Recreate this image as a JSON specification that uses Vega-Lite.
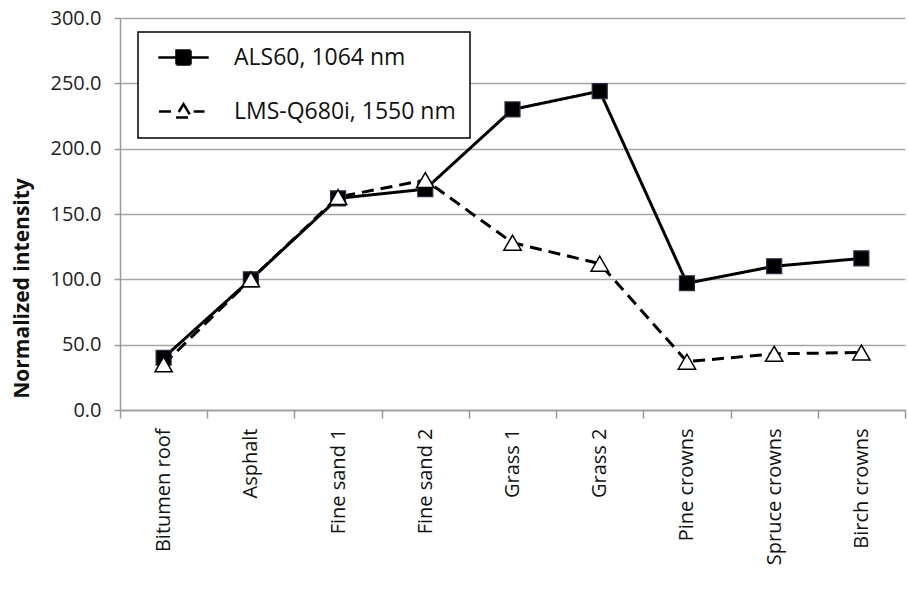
{
  "$schema": "https://vega.github.io/schema/vega-lite/v6.json",
  "width": 785,
  "height": 392,
  "autosize": {"type": "none"},
  "padding": {"left": 120, "top": 18, "right": 3, "bottom": 179},
  "background": "white",
  "config": {
    "view": {"stroke": null},
    "font": "Open Sans",
    "legend": {"strokeWidth": 1.5}
  },
  "data": {
    "values": [
      {"cat": "Bitumen roof", "series": "ALS60, 1064 nm", "value": 40},
      {"cat": "Asphalt", "series": "ALS60, 1064 nm", "value": 100},
      {"cat": "Fine sand 1", "series": "ALS60, 1064 nm", "value": 162},
      {"cat": "Fine sand 2", "series": "ALS60, 1064 nm", "value": 169},
      {"cat": "Grass 1", "series": "ALS60, 1064 nm", "value": 230},
      {"cat": "Grass 2", "series": "ALS60, 1064 nm", "value": 244},
      {"cat": "Pine crowns", "series": "ALS60, 1064 nm", "value": 97},
      {"cat": "Spruce crowns", "series": "ALS60, 1064 nm", "value": 110},
      {"cat": "Birch crowns", "series": "ALS60, 1064 nm", "value": 116},
      {"cat": "Bitumen roof", "series": "LMS-Q680i, 1550 nm", "value": 35},
      {"cat": "Asphalt", "series": "LMS-Q680i, 1550 nm", "value": 100},
      {"cat": "Fine sand 1", "series": "LMS-Q680i, 1550 nm", "value": 163},
      {"cat": "Fine sand 2", "series": "LMS-Q680i, 1550 nm", "value": 176},
      {"cat": "Grass 1", "series": "LMS-Q680i, 1550 nm", "value": 128},
      {"cat": "Grass 2", "series": "LMS-Q680i, 1550 nm", "value": 112},
      {"cat": "Pine crowns", "series": "LMS-Q680i, 1550 nm", "value": 37},
      {"cat": "Spruce crowns", "series": "LMS-Q680i, 1550 nm", "value": 43},
      {"cat": "Birch crowns", "series": "LMS-Q680i, 1550 nm", "value": 44}
    ]
  },
  "encoding": {
    "x": {
      "field": "cat",
      "type": "nominal",
      "sort": null,
      "bandPosition": 0.5,
      "scale": {"type": "band", "paddingInner": 0, "paddingOuter": 0},
      "axis": {
        "title": null,
        "labelAngle": -90,
        "labelAlign": "right",
        "labelBaseline": "middle",
        "labelFontSize": 20,
        "labelColor": "#111111",
        "labelPadding": 10,
        "tickBand": "extent",
        "tickSize": 8,
        "tickColor": "#9a9a9a",
        "tickWidth": 1.5,
        "domainColor": "#9a9a9a",
        "domainWidth": 1.5,
        "grid": false
      }
    },
    "y": {
      "field": "value",
      "type": "quantitative",
      "scale": {"domain": [0, 300], "nice": false},
      "axis": {
        "title": "Normalized intensity",
        "titleFontSize": 21,
        "titleFontWeight": "bold",
        "titleColor": "#111111",
        "titleAngle": -90,
        "titleX": -98,
        "titleY": 270,
        "titleAlign": "center",
        "titleBaseline": "middle",
        "values": [0, 50, 100, 150, 200, 250, 300],
        "format": ".1f",
        "labelFontSize": 20,
        "labelColor": "#222222",
        "labelPadding": 13,
        "tickSize": 6,
        "tickColor": "#9a9a9a",
        "tickWidth": 1.5,
        "domainColor": "#9a9a9a",
        "domainWidth": 1.5,
        "grid": true,
        "gridColor": "#a6a6a6",
        "gridWidth": 1.5
      }
    }
  },
  "layer": [
    {
      "mark": {"type": "line", "color": "black", "strokeWidth": 3},
      "encoding": {
        "strokeDash": {
          "field": "series",
          "type": "nominal",
          "scale": {"domain": ["ALS60, 1064 nm", "LMS-Q680i, 1550 nm"], "range": [[1, 0], [12, 7]]},
          "legend": {
            "title": null,
            "orient": "none",
            "legendX": 18,
            "legendY": 14,
            "padding": 14,
            "fillColor": "white",
            "strokeColor": "black",
            "symbolSize": 196,
            "symbolStrokeWidth": 2.5,
            "symbolStrokeColor": "black",
            "symbolOffset": 20,
            "labelOffset": 39,
            "labelFontSize": 23,
            "labelColor": "#111111",
            "labelLimit": 400,
            "rowPadding": 29,
            "encode": {
              "symbols": {
                "update": {
                  "shape": {"signal": "datum.value === 'ALS60, 1064 nm' ? 'M-3.6,0H-1M1,0H3.6M-1,-1H1V1H-1Z' : 'M-3.5,0H-1.45M1.45,0H3.0M0,-1.05L1.15,0.85L-1.15,0.85Z'"},
                  "fill": {"signal": "datum.value === 'ALS60, 1064 nm' ? 'black' : 'white'"},
                  "stroke": {"value": "black"},
                  "strokeDash": {"value": [1, 0]},
                  "opacity": {"value": 1}
                }
              }
            }
          }
        }
      }
    },
    {
      "transform": [{"filter": "datum.series === 'ALS60, 1064 nm'"}],
      "mark": {"type": "point", "shape": "square", "filled": true, "fill": "black", "stroke": "#2f2a48", "strokeWidth": 1.2, "size": 225, "opacity": 1}
    },
    {
      "transform": [{"filter": "datum.series === 'LMS-Q680i, 1550 nm'"}],
      "mark": {"type": "point", "shape": "triangle-up", "filled": true, "fill": "white", "stroke": "black", "strokeWidth": 1.5, "size": 300, "opacity": 1}
    }
  ]
}
